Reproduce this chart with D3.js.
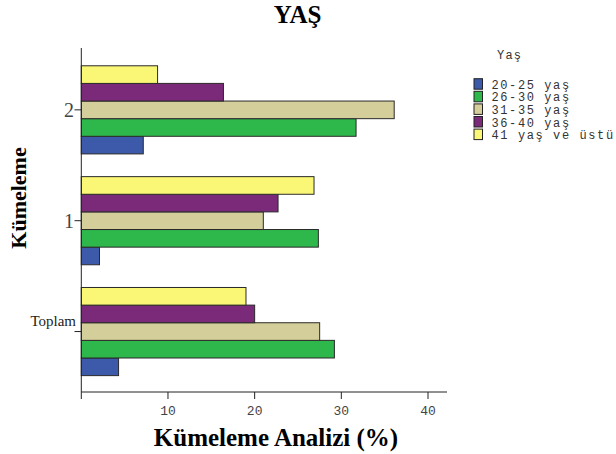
<!DOCTYPE html>
<html><head><meta charset="utf-8">
<script src="https://cdn.jsdelivr.net/npm/d3@7"></script>
<style>body{margin:0;background:#fff}svg{display:block}</style>
</head><body>
<svg id="c" width="616" height="454"></svg>
<script>
const categories = ["2", "1", "Toplam"];
const seriesNames = ["20-25 yaş", "26-30 yaş", "31-35 yaş", "36-40 yaş", "41 yaş ve üstü"];
const seriesColors = ["#3d59a9", "#2eb84b", "#d4cf9a", "#7b2979", "#fbf776"];
// values per category, in series order
const v2 = [7.15, 31.7, 36.1, 16.4, 8.8];
const v1 = [2.1, 27.35, 21.0, 22.7, 26.85];
const vToplam = [4.3, 29.2, 27.5, 20.0, 19.0];
const xTicks = [10, 20, 30, 40];

const values = [v2, v1, vToplam];
const svg = d3.select("#c");

const x = d3.scaleLinear().domain([0, 40]).range([81.3, 428]);
const y = d3.scaleBand().domain(categories).range([54.7, 386.7]).paddingInner(0.205).paddingOuter(0.1);
const inner = d3.scaleBand().domain(seriesNames.slice().reverse()).range([0, y.bandwidth()]);

categories.forEach((c, ci) => {
  const g = svg.append("g").attr("transform", `translate(0,${y(c)})`);
  g.selectAll("rect").data(seriesNames.map((s, si) => ({s, v: values[ci][si], col: seriesColors[si]})))
    .join("rect")
    .attr("x", x(0))
    .attr("y", d => inner(d.s))
    .attr("width", d => x(d.v) - x(0))
    .attr("height", inner.bandwidth())
    .attr("fill", d => d.col)
    .attr("stroke", "#2a2a2a")
    .attr("stroke-width", 1);
});

svg.append("line").attr("x1", 81.3).attr("x2", 81.3).attr("y1", 48).attr("y2", 392).attr("stroke", "#222");
svg.append("line").attr("x1", 81.3).attr("x2", 447).attr("y1", 392).attr("y2", 392).attr("stroke", "#222");
svg.selectAll("line.xt").data([0].concat(xTicks)).join("line")
  .attr("x1", d => x(d)).attr("x2", d => x(d)).attr("y1", 392).attr("y2", 399).attr("stroke", "#222");
svg.selectAll("text.xt").data(xTicks).join("text")
  .attr("x", d => x(d)).attr("y", 415)
  .attr("text-anchor", "middle")
  .attr("font-family", "Liberation Mono, monospace").attr("font-size", 13).attr("fill", "#444")
  .text(d => d);

categories.forEach(c => {
  const cy = y(c) + y.bandwidth() / 2;
  svg.append("line").attr("x1", 74.5).attr("x2", 81.3).attr("y1", cy).attr("y2", cy).attr("stroke", "#222");
  if (c === "Toplam") {
    svg.append("text").attr("x", 76).attr("y", cy - 6)
      .attr("text-anchor", "end").attr("font-family", "Liberation Serif, serif").attr("font-size", 15)
      .attr("fill", "#222").text(c);
  } else {
    svg.append("text").attr("x", 74).attr("y", cy + 7)
      .attr("text-anchor", "end").attr("font-family", "Liberation Serif, serif").attr("font-size", 20)
      .attr("fill", "#444").text(c);
  }
});

svg.append("text").attr("x", 297.5).attr("y", 23).attr("text-anchor", "middle")
  .attr("font-family", "Liberation Serif, serif").attr("font-weight", "bold").attr("font-size", 25)
  .text("YAŞ");
svg.append("text").attr("transform", "translate(26,198) rotate(-90)").attr("text-anchor", "middle")
  .attr("font-family", "Liberation Serif, serif").attr("font-weight", "bold").attr("font-size", 22)
  .text("Kümeleme");
svg.append("text").attr("x", 276).attr("y", 446).attr("text-anchor", "middle")
  .attr("font-family", "Liberation Serif, serif").attr("font-weight", "bold").attr("font-size", 25)
  .text("Kümeleme Analizi (%)");

svg.append("text").attr("x", 497).attr("y", 59)
  .attr("font-family", "Liberation Mono, monospace").attr("font-size", 12).attr("letter-spacing", 1.2)
  .attr("fill", "#333").text("Yaş");
const leg = svg.selectAll("g.leg").data(seriesNames).join("g")
  .attr("transform", (d, i) => `translate(474,${78.7 + i * 12.6})`);
leg.append("rect").attr("width", 8.5).attr("height", 10.5)
  .attr("fill", (d, i) => seriesColors[i]).attr("stroke", "#222").attr("stroke-width", 1);
leg.append("text").attr("x", 17.5).attr("y", 10)
  .attr("font-family", "Liberation Mono, monospace").attr("font-size", 12).attr("letter-spacing", 1.6)
  .attr("fill", "#333")
  .text(d => d);
</script>
</body></html>
